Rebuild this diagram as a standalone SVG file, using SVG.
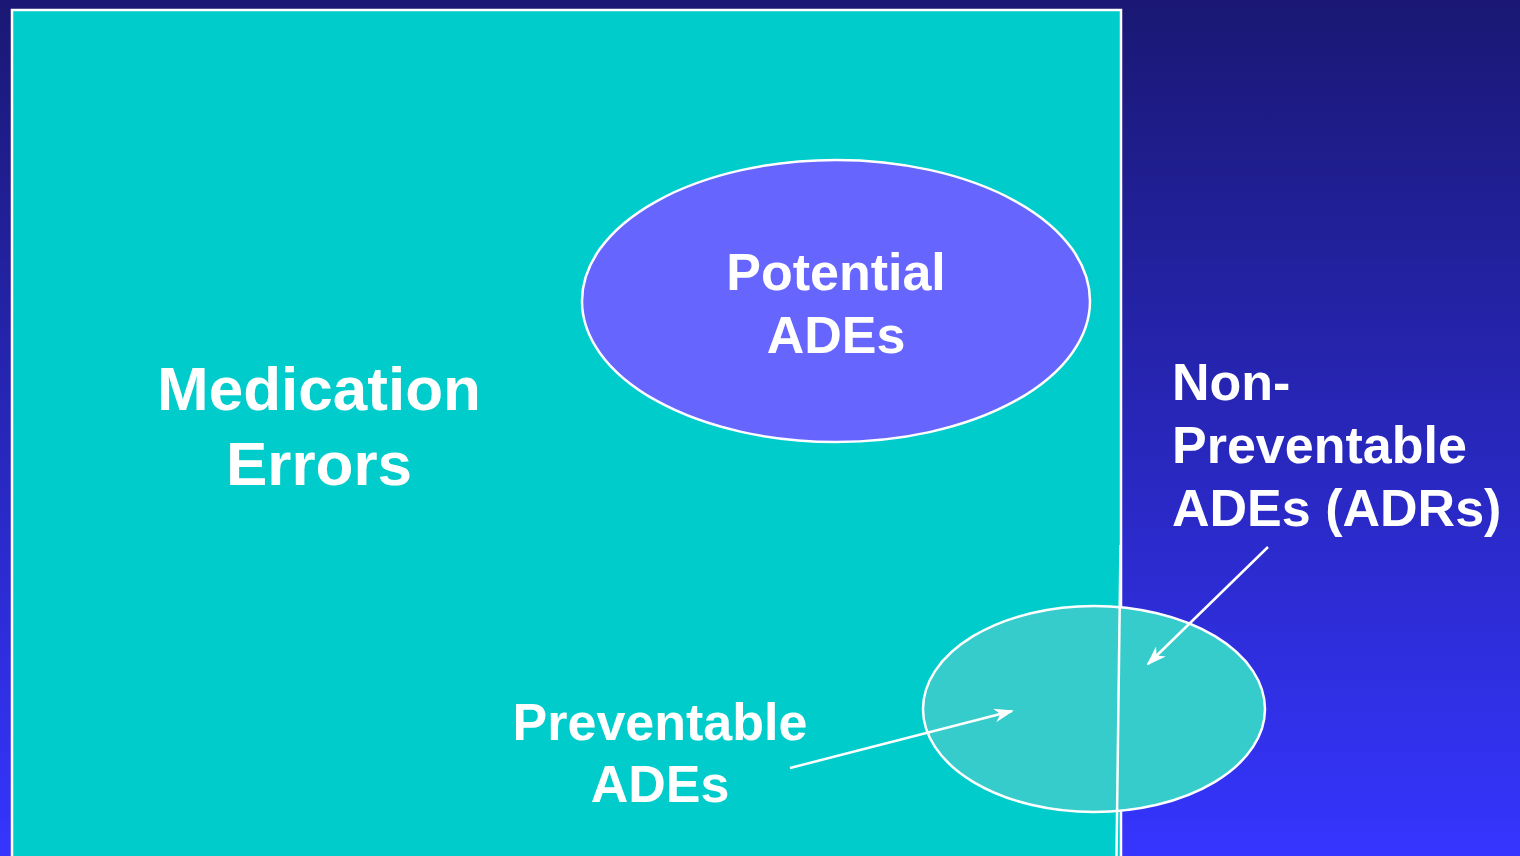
<svg xmlns="http://www.w3.org/2000/svg" width="1520" height="856" viewBox="0 0 1520 856">
  <defs>
    <linearGradient id="bg" x1="0" y1="0" x2="0" y2="1">
      <stop offset="0" stop-color="#1a1873"/>
      <stop offset="1" stop-color="#3535ff"/>
    </linearGradient>
    <marker id="head" viewBox="0 0 20 14" refX="18" refY="7" markerWidth="20" markerHeight="14" markerUnits="userSpaceOnUse" orient="auto">
      <path d="M0,0 L20,7 L0,14 L6,7 Z" fill="#ffffff"/>
    </marker>
    <style>
      .lbl { font-family: "Liberation Sans", Arial, sans-serif; font-weight: bold; fill: #ffffff; }
      .edge { stroke: #ffffff; stroke-width: 2.5; fill: none; }
      .conn { stroke: #ffffff; stroke-width: 2.5; fill: none; marker-end: url(#head); }
    </style>
  </defs>

  <rect x="0" y="0" width="1520" height="856" fill="url(#bg)"/>

  <g id="medication-errors">
    <rect x="12" y="10" width="1109" height="860" fill="#00cccc" stroke="#ffffff" stroke-width="2.5"/>
    <text class="lbl" font-size="62" text-anchor="middle" x="319" y="410">Medication</text>
    <text class="lbl" font-size="62" text-anchor="middle" x="319" y="485">Errors</text>
  </g>

  <g id="potential-ades">
    <ellipse cx="836" cy="301" rx="254" ry="141" fill="#6666ff" stroke="#ffffff" stroke-width="2.5"/>
    <text class="lbl" font-size="52" text-anchor="middle" x="836" y="290">Potential</text>
    <text class="lbl" font-size="52" text-anchor="middle" x="836" y="353">ADEs</text>
  </g>

  <g id="ades">
    <ellipse cx="1094" cy="709" rx="171" ry="103" fill="#36cccc" stroke="#ffffff" stroke-width="2.5"/>
    <line class="edge" x1="1120.5" y1="545" x2="1116.5" y2="856"/>
  </g>

  <g id="non-preventable-label">
    <text class="lbl" font-size="52" x="1172" y="400">Non-</text>
    <text class="lbl" font-size="52" x="1172" y="463">Preventable</text>
    <text class="lbl" font-size="52" x="1172" y="526">ADEs (ADRs)</text>
  </g>

  <g id="preventable-label">
    <text class="lbl" font-size="52" text-anchor="middle" x="660" y="740">Preventable</text>
    <text class="lbl" font-size="52" text-anchor="middle" x="660" y="802">ADEs</text>
  </g>

  <g id="connectors">
    <line class="conn" x1="790" y1="768" x2="1012" y2="711"/>
    <line class="conn" x1="1268" y1="547" x2="1148" y2="664"/>
  </g>
</svg>
